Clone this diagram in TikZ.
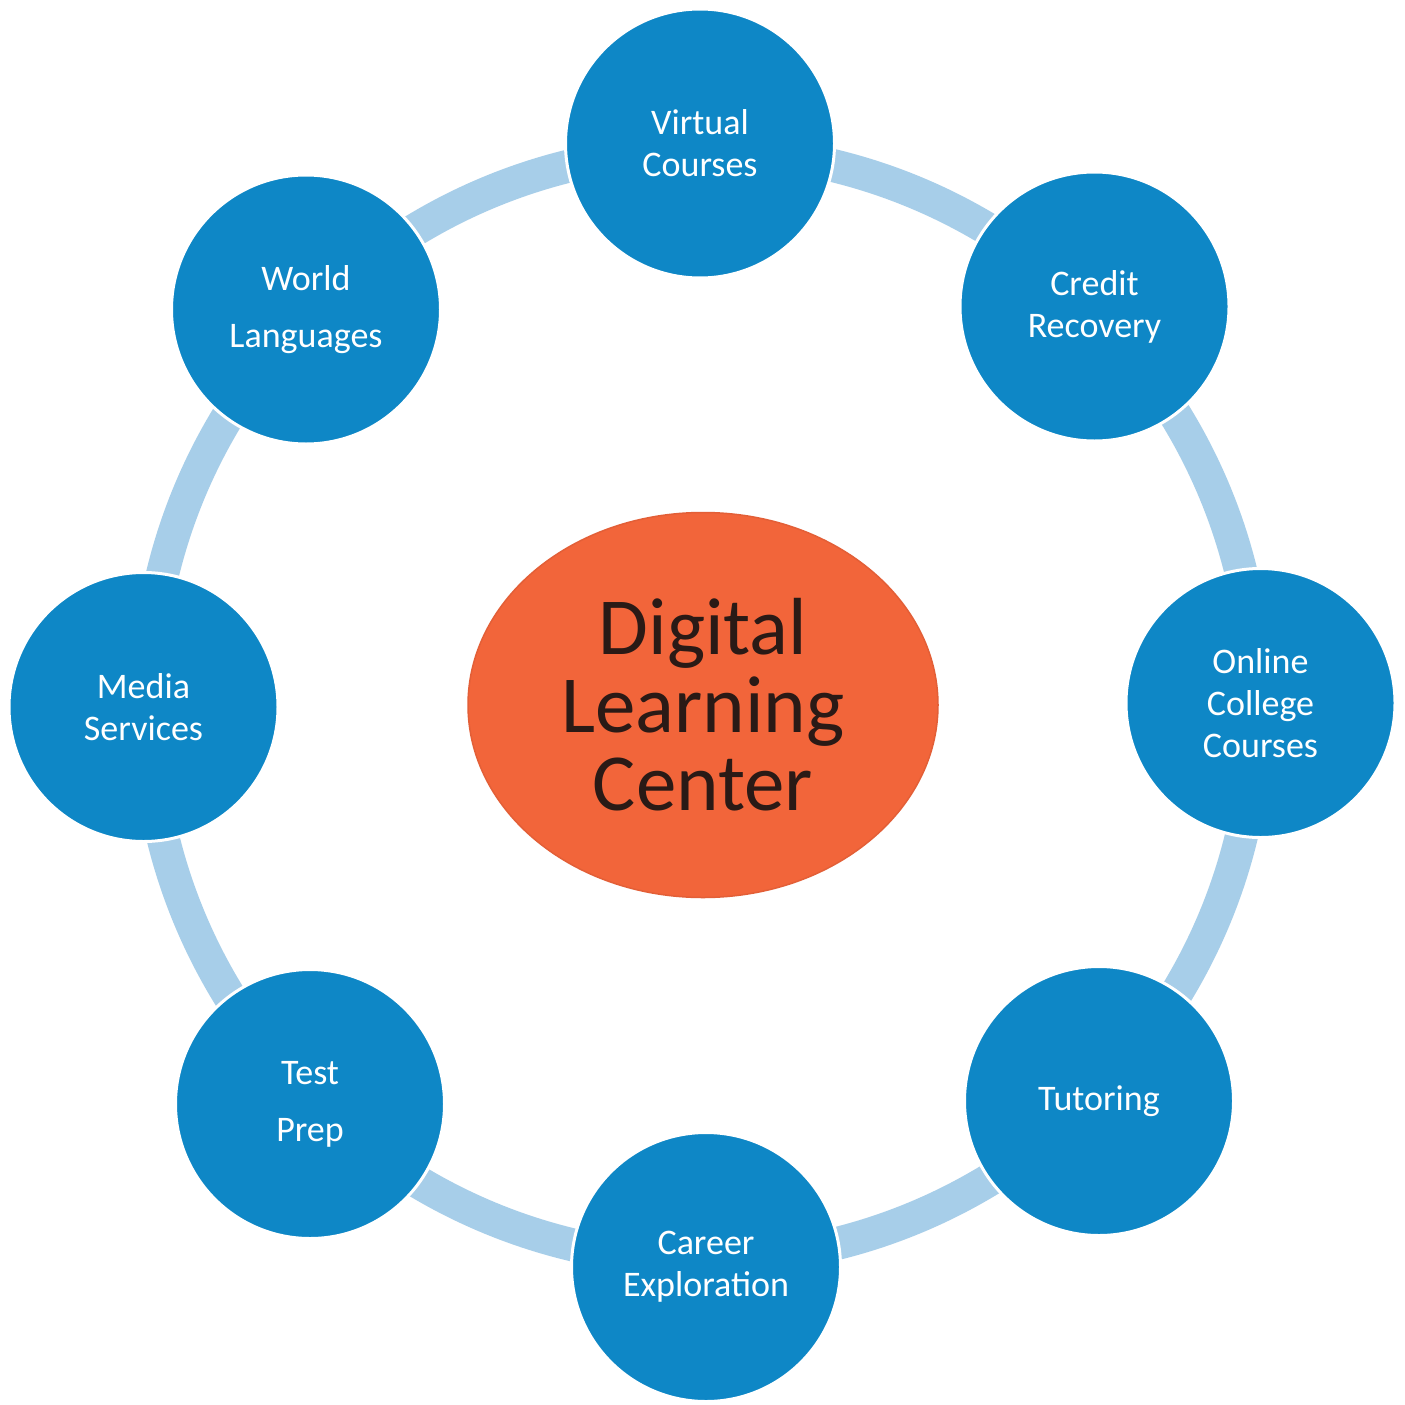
\documentclass[tikz,border=0pt]{standalone}
\usepackage{fontspec}
\setmainfont{Carlito}
\usetikzlibrary{shapes.geometric}
\definecolor{nodeblue}{HTML}{0E87C6}
\definecolor{ringblue}{HTML}{A7CEE9}
\definecolor{hubred}{HTML}{F2653A}
\definecolor{hubtext}{HTML}{2A1A16}
\tikzset{
  ring/.style={draw=ringblue, line width=33pt},
  spoke/.style={circle, minimum size=269pt, inner sep=0pt, fill=nodeblue,
    draw=white, line width=3pt, text=white, align=center,
    font=\fontsize{36}{42}\selectfont},
  widespoke/.style={spoke, font=\fontsize{36}{57}\selectfont},
  hub/.style={ellipse, minimum width=470pt, minimum height=385pt, inner sep=0pt,
    fill=hubred, draw=hubred!94!black, line width=1.5pt, text=hubtext, align=center,
    font=\fontsize{81}{78}\selectfont}
}
\begin{document}
\begin{tikzpicture}[x=1pt,y=-1pt]
\useasboundingbox (0,0) rectangle (1405,1405);
\fill[white] (0,0) rectangle (1405,1405);
\coordinate (ctr) at (702,705);
\draw[ring] (ctr) circle (555);
\node[spoke] (virtual) at (700,143.5) {Virtual\\Courses};
\node[spoke] (credit) at (1094.5,306.5) {Credit\\Recovery};
\node[spoke] (online) at (1260.5,703) {Online\\College\\Courses};
\node[spoke] (tutoring) at (1099,1101) {Tutoring};
\node[spoke] (career) at (706,1267) {Career\\Exploration};
\node[widespoke] (test) at (310,1104) {Test\\Prep};
\node[spoke] (media) at (143.5,707) {Media\\Services};
\node[widespoke] (world) at (306,309.5) {World\\Languages};
\node[hub] (dlc) at (703,705) {Digital\\Learning\\Center};
\end{tikzpicture}
\end{document}
